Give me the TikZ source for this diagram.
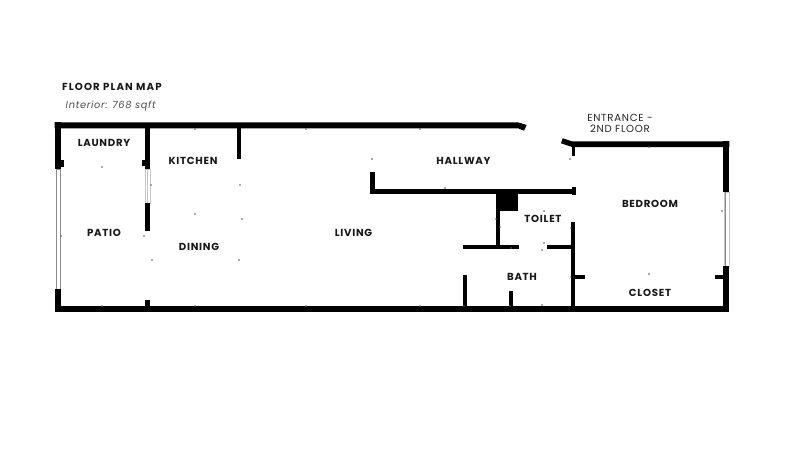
\documentclass[tikz,border=0pt]{standalone}
\usepackage{fontspec}
\setmainfont{Poppins}
\newfontfamily\labfont[LetterSpace=7]{Poppins}
\newfontfamily\titlefont[LetterSpace=11]{Poppins}
\tikzset{
  wall/.style={fill=black,draw=none},
  lab/.style={font=\labfont\bfseries\fontsize{10.2}{12}\selectfont,text=black!90,inner sep=0pt},
  ent/.style={font=\labfont\fontsize{10.2}{11}\selectfont,text=black!85,inner sep=0pt,align=center},
  win/.style={draw=black!45,line width=0.7pt,fill=white},
  winl/.style={draw=black!22,line width=0.7pt,fill=white},
  spot/.style={fill=black!65,draw=none}
}
\newcommand{\wl}[4]{\fill[wall] (#1,#2) rectangle (#3,#4);}
\newcommand{\spt}[2]{\fill[spot] (#1,#2) circle (0.9);}
\begin{document}
\begin{tikzpicture}[x=1pt,y=-1pt]
\useasboundingbox (0,0) rectangle (800,455);
\fill[white] (0,0) rectangle (800,455);
% windows
\draw[win] (56.7,169) rectangle (60.6,289);
\draw[winl] (145.5,169) rectangle (150,203);
\draw[winl] (147.7,169) -- (147.7,203);
\draw[winl] (724,192) rectangle (729,266);
\draw[win] (725.5,192) -- (725.5,266);
% outer walls, left and top
\wl{54.7}{122.3}{60.7}{169}
\fill[wall] (60,160) rectangle (64,167);
\wl{54.7}{289}{60.7}{312}
\wl{54.7}{306}{729.3}{312}
\fill[wall] (54.7,122.3) -- (518,122.3) -- (526.7,125) -- (524,130.7) -- (518,128.3) -- (54.7,128.3) -- cycle;
\fill[wall] (562.7,138.3) -- (572,141.4) -- (729.3,141.4) -- (729.3,147) -- (572,147) -- (561,143.3) -- cycle;
\wl{571.7}{145}{575.3}{155.5}
% right wall
\wl{723.3}{141.4}{729.3}{192.3}
\wl{723.3}{266}{729.3}{312}
\wl{715}{275}{724}{279}
% laundry / patio partition
\wl{145}{125}{150.3}{169}
\wl{142}{160}{146}{166}
\wl{145}{202.7}{150.3}{231}
\wl{145}{300}{150.3}{307}
% kitchen partition
\wl{236.7}{125}{241}{159}
% hallway
\wl{370}{171.7}{374.5}{194}
\wl{370}{189.3}{575}{194}
\wl{571.7}{186.7}{576}{194.5}
% toilet and bath
\wl{495.7}{192}{518.3}{210.7}
\wl{496}{208}{500}{247}
\wl{462.7}{245}{519}{249.3}
\wl{547.3}{245}{573}{249.3}
\wl{571.3}{222.3}{575.3}{308}
\wl{573}{275}{584.7}{279}
\wl{462.7}{275.3}{466.7}{308}
\wl{509.3}{290.7}{513}{308}
% fixtures
\foreach \p/\q in {102/167,195/129,151/185,240/185,195/214,242/219,152/260,239/260,61/236,144/236,102/306,195/306,306/129,306/306,420/129,420/306,372/159,445/188,649/147,649/274,722/211,570/159,544/211,496/219,500/227,571/228,544/243,542/250,511/248,571/277,542/305,510/306,464/306}{\spt{\p}{\q}}
% texts
\node[lab,anchor=west,font=\titlefont\bfseries\fontsize{10.2}{12}\selectfont] (title) at (62,86.5) {FLOOR PLAN MAP};
\node[anchor=west,inner sep=0pt,text=black!70,font=\labfont\itshape\fontsize{9.8}{11}\selectfont] (area) at (65.5,106) {Interior: 768 sqft};
\node[lab] (laundry) at (104,142.7) {LAUNDRY};
\node[lab] (kitchen) at (193,160.5) {KITCHEN};
\node[lab] (patio) at (104,232.5) {PATIO};
\node[lab] (dining) at (199,247) {DINING};
\node[lab] (living) at (353.5,232.5) {LIVING};
\node[lab] (hallway) at (463.5,160.7) {HALLWAY};
\node[lab] (toilet) at (543,218.5) {TOILET};
\node[lab] (bath) at (522,276.5) {BATH};
\node[lab] (bedroom) at (650,203.7) {BEDROOM};
\node[lab] (closet) at (650,293) {CLOSET};
\node[ent] (entrance) at (620,123.3) {ENTRANCE -\\2ND FLOOR};
\end{tikzpicture}
\end{document}
